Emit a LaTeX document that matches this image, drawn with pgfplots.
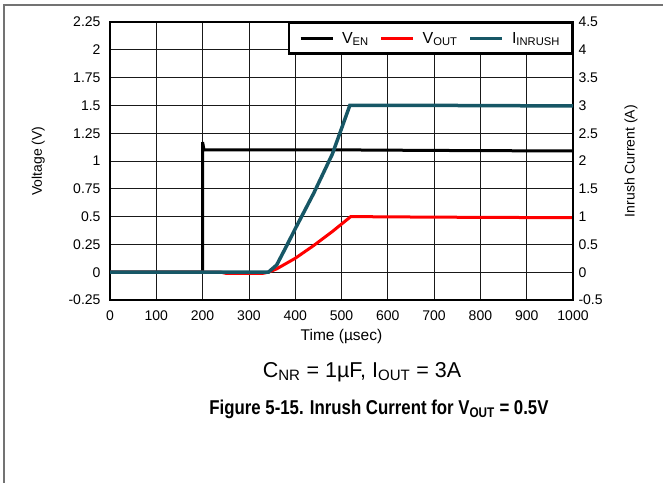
\documentclass[border=0pt]{standalone}
\usepackage{fontspec}
\setmainfont{Liberation Sans}
\usepackage{graphicx}
\usepackage{pgfplots}
\pgfplotsset{compat=1.18}
\definecolor{tealI}{RGB}{23,87,102}
\begin{document}
\begin{tikzpicture}
\useasboundingbox (0,0) rectangle (663bp,-483bp);
\draw[black!55, line width=1.5bp] (4bp,-483bp) -- (4bp,-5bp) -- (663bp,-5bp);
\begin{axis}[
  at={(110bp,-300bp)}, anchor=south west,
  scale only axis, width=463bp, height=278bp,
  xmin=0, xmax=1000, ymin=-0.25, ymax=2.25,
  xtick={0,100,200,300,400,500,600,700,800,900,1000},
  xticklabels={0,100,200,300,400,500,600,700,800,900,1000},
  ytick={-0.25,0,0.25,0.5,0.75,1,1.25,1.5,1.75,2,2.25},
  yticklabels={-0.25,0,0.25,0.5,0.75,1,1.25,1.5,1.75,2,2.25},
  grid=major, major grid style={black!90, line width=0.8bp},
  major tick length=0pt,
  axis line style={line width=2.4bp},
  tick label style={font=\fontsize{14bp}{16bp}\selectfont},
  xticklabel style={yshift=-7bp},
  yticklabel style={xshift=-6bp},
  xlabel={Time (µsec)},
  xlabel style={at={(axis description cs:0.5,-0.13)}, anchor=center, font=\fontsize{15.5bp}{18bp}\selectfont},
  ylabel={Voltage (V)},
  ylabel style={at={(axis description cs:-0.155,0.5)}, anchor=center, font=\fontsize{14bp}{16bp}\selectfont},
]
\addplot[black, line width=3bp] coordinates {(0,0) (200,0) (200,1.17) (203,1.10) (300,1.10) (500,1.10) (700,1.095) (1000,1.09)};
\addplot[red, line width=3bp] coordinates {(0,0) (240,0) (250,-0.01) (330,-0.01) (342,0) (360,0.03) (400,0.125) (440,0.24) (480,0.365) (520,0.5) (700,0.495) (1000,0.49)};
\end{axis}
\begin{axis}[
  at={(110bp,-300bp)}, anchor=south west,
  scale only axis, width=463bp, height=278bp,
  xmin=0, xmax=1000, ymin=-0.5, ymax=4.5,
  axis x line=none, axis y line*=right,
  ytick={-0.5,0,0.5,1,1.5,2,2.5,3,3.5,4,4.5},
  yticklabels={-0.5,0,0.5,1,1.5,2,2.5,3,3.5,4,4.5},
  major tick length=0pt,
  axis line style={line width=2.4bp},
  tick label style={font=\fontsize{14bp}{16bp}\selectfont},
  yticklabel style={xshift=2bp},
  ylabel={Inrush Current (A)},
  ylabel style={at={(axis description cs:1.125,0.5)}, anchor=center, font=\fontsize{14bp}{16bp}\selectfont},
  legend columns=3,
  legend style={at={(1,1)}, anchor=north east, draw=black, line width=2.2bp,
    font=\fontsize{16bp}{18bp}\selectfont, inner xsep=10bp, inner ysep=7bp,
    /tikz/every odd column/.append style={column sep=6bp},
    /tikz/every even column/.append style={column sep=9bp}},
  legend image code/.code={\draw[#1] (0bp,0bp) -- (32bp,0bp);},
]
\addlegendimage{black, line width=3bp}
\addlegendentry{V\textsubscript{EN}}
\addlegendimage{red, line width=3bp}
\addlegendentry{V\textsubscript{OUT}}
\addplot[tealI, line width=3.5bp] coordinates {(0,0) (342,0) (360,0.13) (380,0.45) (400,0.78) (440,1.42) (480,2.12) (518,3.0) (700,3.0) (1000,2.99)};
\addlegendentry{I\textsubscript{INRUSH}}
\end{axis}
\node[font=\fontsize{21.5bp}{24bp}\selectfont] at (362bp,-372bp) {C\textsubscript{NR} = 1µF, I\textsubscript{OUT} = 3A};
\node[font=\bfseries\fontsize{20bp}{24bp}\selectfont] at (379bp,-409bp) {\scalebox{0.84}[1]{Figure 5-15. Inrush Current for V\textsubscript{OUT} = 0.5V}};
\end{tikzpicture}
\end{document}
